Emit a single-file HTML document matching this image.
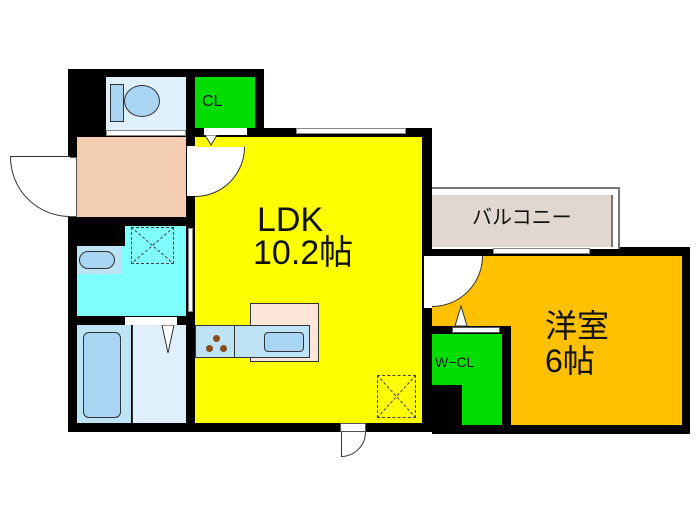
<!DOCTYPE html>
<html><head><meta charset="utf-8"><style>
body{margin:0;width:700px;height:525px;background:#fff;overflow:hidden;position:relative;font-family:"Liberation Sans","Noto Sans CJK JP",sans-serif}
div{position:absolute;box-sizing:border-box}
.t{color:#111;white-space:nowrap;line-height:1}
</style></head><body>
<!-- black walls base -->
<div style="left:68px;top:69px;width:196px;height:363px;background:#000"></div>
<div style="left:186px;top:128px;width:246px;height:304px;background:#000"></div>
<div style="left:432px;top:247px;width:258px;height:187px;background:#000"></div>
<!-- balcony -->
<div style="left:432px;top:187px;width:188px;height:62px;border:2px solid #777;border-left:none;border-bottom:none;background:#fff"></div>
<div style="left:432px;top:195px;width:181px;height:52px;background:#e0d8d0;border-right:2px solid #777"></div>
<div class="t" style="left:472px;top:208px;font-size:20px">バルコニー</div>
<!-- toilet -->
<div style="left:106px;top:77px;width:80px;height:53px;background:#dff0fb"></div>
<div style="left:110px;top:84px;width:14px;height:38px;background:#a9d4f2;border:1px solid #333"></div>
<div style="left:124px;top:85px;width:36px;height:32px;background:#a9d4f2;border:1px solid #333;border-radius:50%"></div>
<div style="left:106px;top:130px;width:80px;height:6px;background:#fff;border:1px solid #888"></div>
<!-- CL -->
<div style="left:195px;top:77px;width:60px;height:51px;background:#00dd00"></div>
<div class="t" style="left:202px;top:94px;font-size:16px">CL</div>
<div style="left:204px;top:128px;width:43px;height:7px;background:#fff"></div>
<!-- entrance -->
<div style="left:77px;top:137px;width:109px;height:80px;background:#f2cdb2"></div>
<div style="left:69px;top:157px;width:8px;height:60px;background:#fff;border:1px solid #555"></div>
<div style="left:10px;top:97px;width:120px;height:120px;border:1px solid #333;border-radius:50%;clip-path:inset(60px 60px 0 0);background:#fff"></div>
<div style="left:10px;top:156px;width:60px;height:1px;background:#333"></div>
<!-- washroom -->
<div style="left:77px;top:226px;width:109px;height:90px;background:#80ffff"></div>
<div style="left:77px;top:226px;width:48px;height:20px;background:#000"></div>
<div style="left:77px;top:246px;width:44px;height:28px;background:#bde3f5"></div>
<div style="left:79px;top:251px;width:36px;height:18px;background:#a9d4f2;border:1px solid #333;border-radius:9px"></div>
<div style="left:131px;top:227px;width:43px;height:37px;border:1px dashed #444"></div>
<svg style="position:absolute;left:131px;top:227px" width="43" height="37"><path d="M0 0L43 37M43 0L0 37" stroke="#444" stroke-dasharray="3 2"/></svg>
<div style="left:188px;top:228px;width:5px;height:84px;background:#fff;border:1px solid #888"></div>
<!-- bath -->
<div style="left:125px;top:317px;width:52px;height:8px;background:#fff"></div>
<div style="left:77px;top:325px;width:54px;height:98px;background:#bde3f5"></div>
<div style="left:83px;top:332px;width:38px;height:86px;background:#a9d4f2;border:1px solid #333;border-radius:6px"></div>
<div style="left:132px;top:325px;width:54px;height:98px;background:#dff0fb;border-left:1px solid #333"></div>
<svg style="position:absolute;left:160px;top:325px" width="20" height="30"><path d="M2 0L8 28L14 0Z" fill="#fff" stroke="#333"/></svg>
<!-- LDK -->
<div style="left:195px;top:137px;width:227px;height:286px;background:#ffff00"></div>
<div style="left:296px;top:128px;width:110px;height:6px;background:#fff;border:1px solid #888"></div>
<div style="left:187px;top:146px;width:8px;height:50px;background:#fff"></div>
<div style="left:145px;top:97px;width:100px;height:100px;border:1px solid #333;border-radius:50%;clip-path:inset(50px 0 0 50px);background:#fff"></div>
<svg style="position:absolute;left:204px;top:135px" width="14" height="12"><path d="M1 0L7 10L13 0Z" fill="#fff" stroke="#333"/></svg>
<div class="t" style="left:257px;top:203px;font-size:34px">LDK</div>
<div class="t" style="left:253px;top:236px;font-size:34px">10.2帖</div>
<div style="left:250px;top:303px;width:69px;height:59px;background:#fbe6d8;border:1px solid #333"></div>
<div style="left:195px;top:325px;width:115px;height:33px;background:#bde3f5;border:1px solid #333"></div>
<div style="left:234px;top:325px;width:1px;height:33px;background:#333"></div>
<div style="left:264px;top:332px;width:40px;height:20px;background:#a9d4f2;border:1px solid #333;border-radius:4px"></div>
<div style="left:213px;top:335px;width:7px;height:7px;background:#8a4a1a;border-radius:50%"></div>
<div style="left:206px;top:345px;width:7px;height:7px;background:#8a4a1a;border-radius:50%"></div>
<div style="left:220px;top:345px;width:7px;height:7px;background:#8a4a1a;border-radius:50%"></div>
<div style="left:377px;top:375px;width:39px;height:43px;border:1px dashed #444"></div>
<svg style="position:absolute;left:377px;top:375px" width="39" height="43"><path d="M0 0L39 43M39 0L0 43" stroke="#444" stroke-dasharray="3 2"/></svg>
<div style="left:340px;top:423px;width:26px;height:9px;background:#fff;border:1px solid #555"></div>
<div style="left:316px;top:407px;width:50px;height:50px;border:1px solid #333;border-radius:50%;clip-path:inset(25px 0 0 25px)"></div>
<div style="left:341px;top:432px;width:1px;height:25px;background:#333"></div>
<!-- western room -->
<div style="left:432px;top:256px;width:250px;height:169px;background:#ffc000"></div>
<div style="left:493px;top:248px;width:97px;height:6px;background:#fff;border:1px solid #888"></div>
<div style="left:424px;top:256px;width:8px;height:52px;background:#fff"></div>
<div style="left:381px;top:205px;width:102px;height:102px;border:1px solid #333;border-radius:50%;clip-path:inset(51px 0 0 51px);background:#fff"></div>
<div style="left:432px;top:326px;width:79px;height:99px;background:#000"></div>
<div style="left:452px;top:327px;width:48px;height:6px;background:#fff;border:1px solid #555"></div>
<svg style="position:absolute;left:454px;top:305px" width="14" height="22"><path d="M1 21L7 1L13 21Z" fill="#fff" stroke="#333"/></svg>
<div style="left:432px;top:334px;width:70px;height:91px;background:#00dd00"></div>
<div style="left:432px;top:385px;width:30px;height:40px;background:#000"></div>
<div class="t" style="left:435px;top:355px;font-size:14px">W−CL</div>
<div class="t" style="left:545px;top:310px;font-size:32px">洋室</div>
<div class="t" style="left:545px;top:345px;font-size:32px">6帖</div>
</body></html>
